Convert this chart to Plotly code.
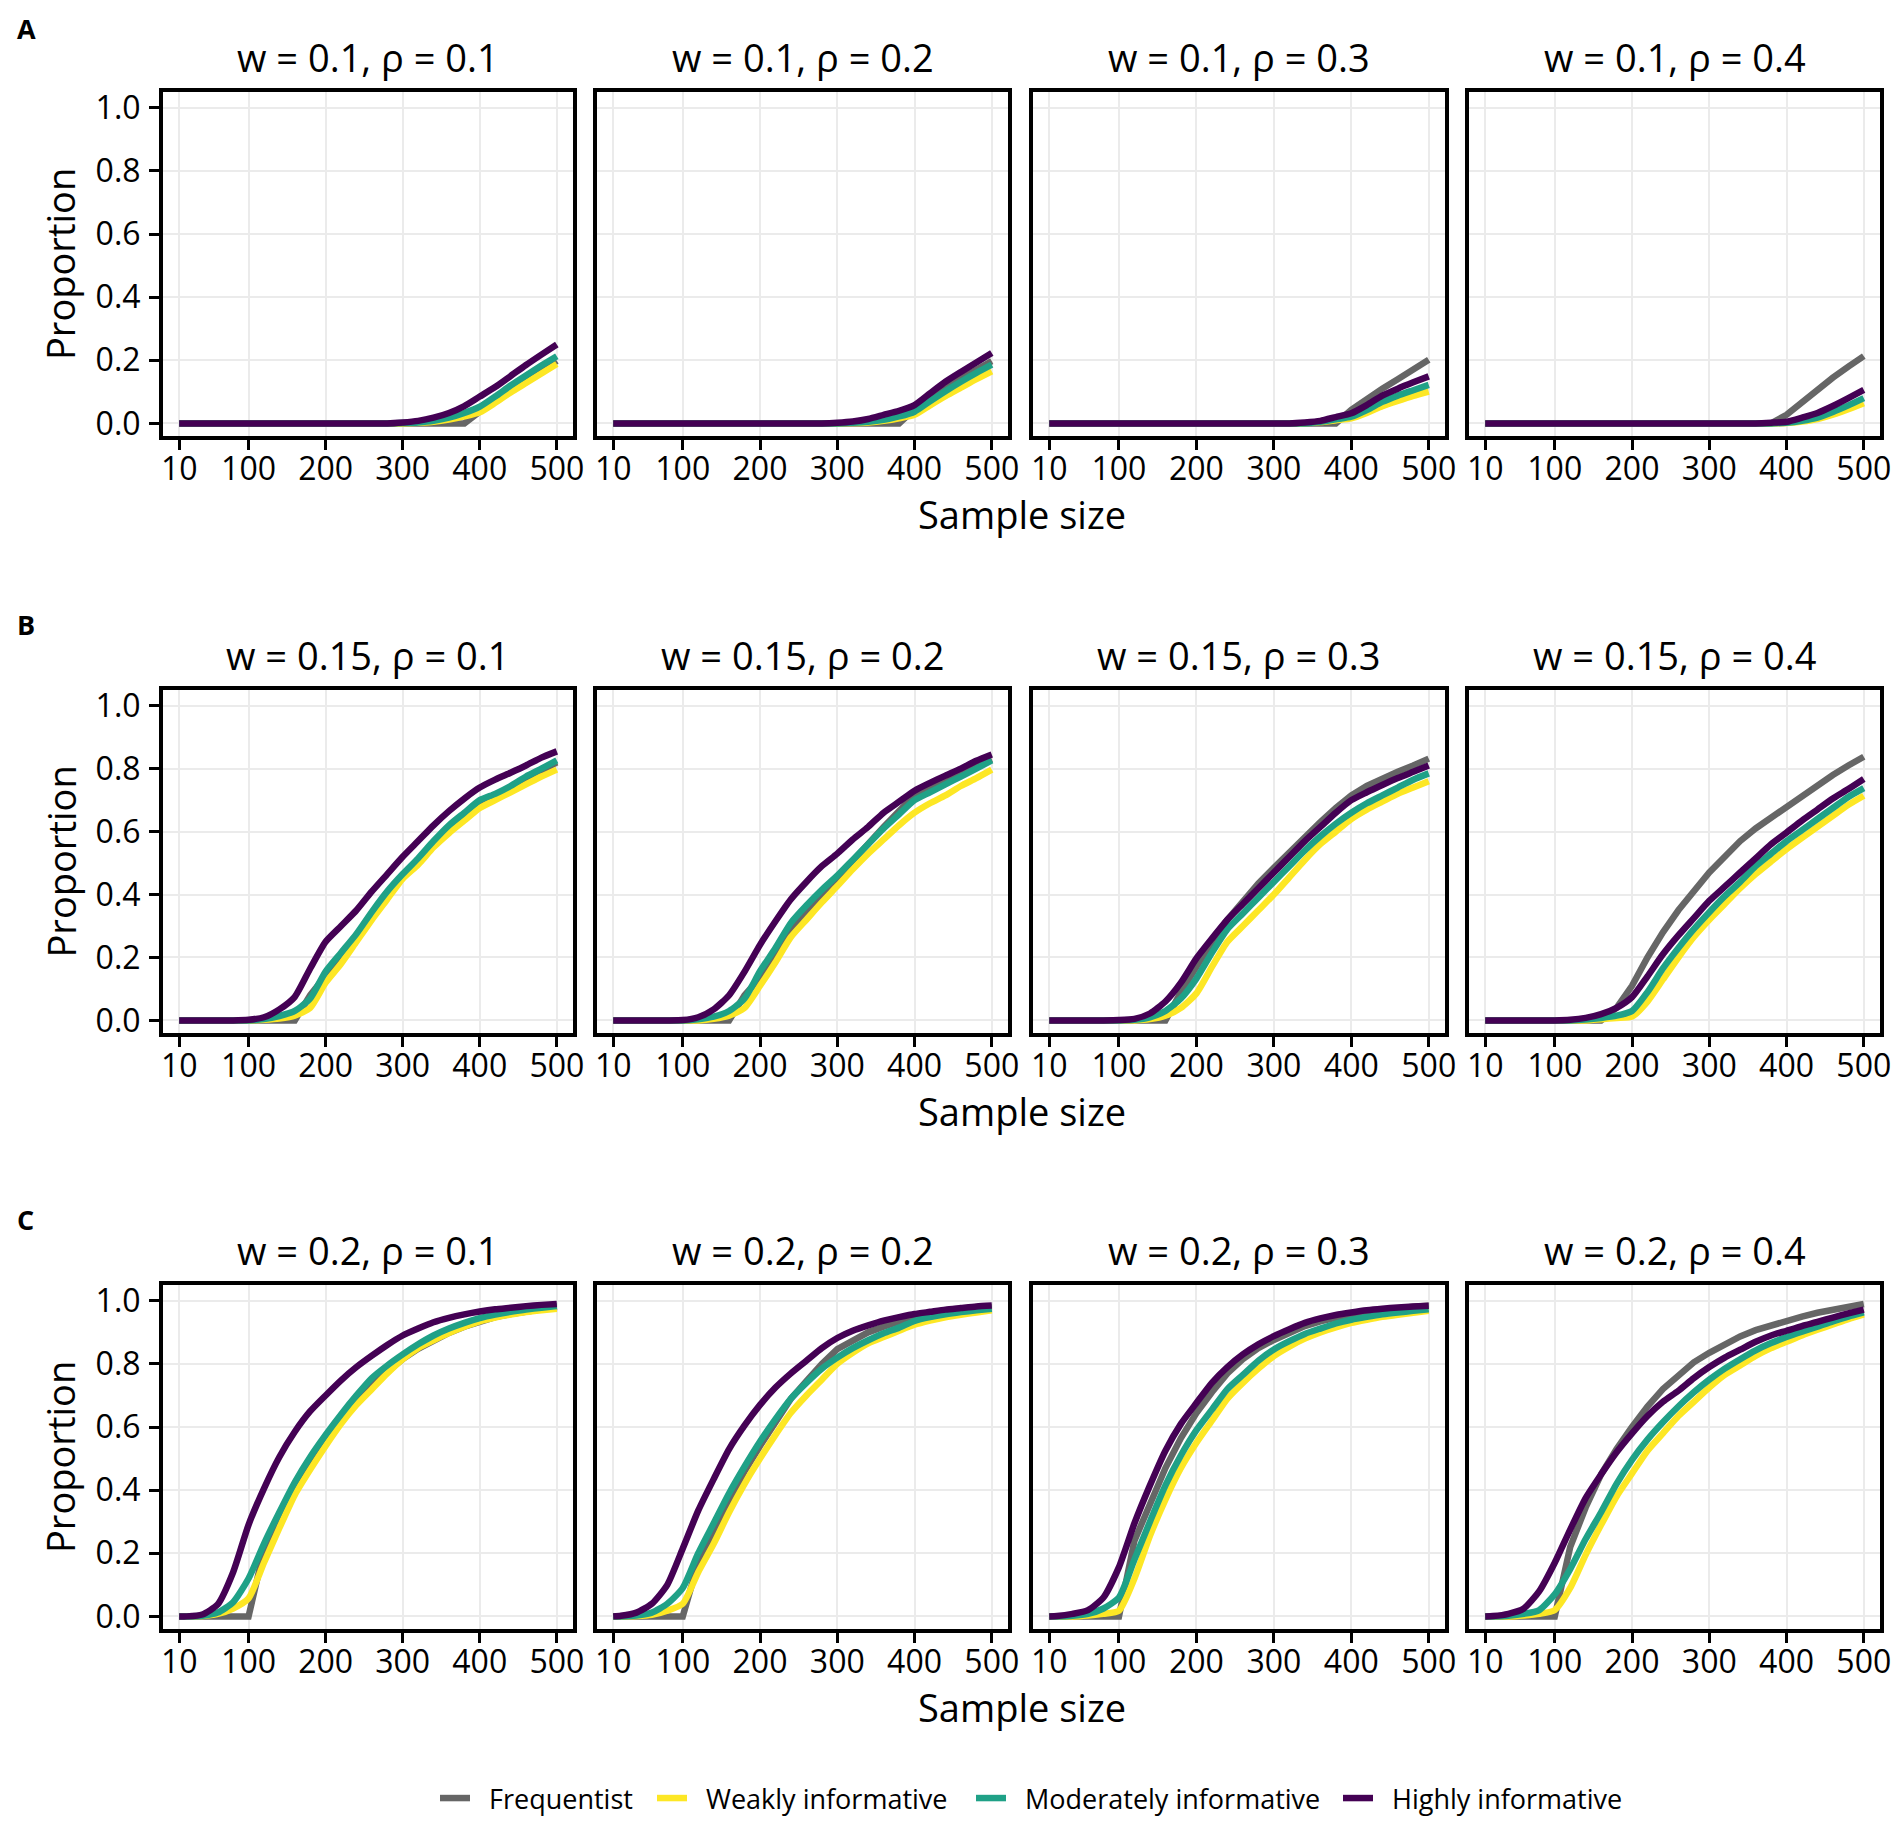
import plotly.graph_objects as go

# ---------------- data ----------------
sample_size = [10, 20, 40, 60, 80, 100, 120, 140, 160, 180, 200, 220, 240, 260,
               280, 300, 320, 340, 360, 380, 400, 420, 440, 460, 480, 500]

w_labels = ["0.1", "0.15", "0.2"]
rho_labels = ["0.1", "0.2", "0.3", "0.4"]
row_letters = ["A", "B", "C"]
series_names = ["Frequentist", "Weakly informative", "Moderately informative", "Highly informative"]
series_colors = ["#666666", "#FDE725", "#1FA187", "#440154"]
x_ticks = [10, 100, 200, 300, 400, 500]
y_ticks = [0.0, 0.2, 0.4, 0.6, 0.8, 1.0]

# Row A (w = 0.1)
freq_A1 = [0, 0, 0, 0, 0, 0, 0, 0, 0, 0, 0, 0, 0, 0, 0, 0, 0, 0, 0, 0, 0.037, 0.07, 0.102, 0.133, 0.165, 0.198]
weak_A1 = [0, 0, 0, 0, 0, 0, 0, 0, 0, 0, 0, 0, 0, 0, 0, 0, 0.002, 0.005, 0.012, 0.022, 0.035, 0.065, 0.098, 0.128, 0.158, 0.188]
mod_A1 = [0, 0, 0, 0, 0, 0, 0, 0, 0, 0, 0, 0, 0, 0, 0, 0.001, 0.003, 0.008, 0.018, 0.033, 0.053, 0.085, 0.12, 0.152, 0.183, 0.213]
high_A1 = [0, 0, 0, 0, 0, 0, 0, 0, 0, 0, 0, 0, 0, 0, 0, 0.003, 0.008, 0.018, 0.033, 0.055, 0.085, 0.115, 0.15, 0.185, 0.218, 0.25]

freq_A2 = [0, 0, 0, 0, 0, 0, 0, 0, 0, 0, 0, 0, 0, 0, 0, 0, 0, 0, 0, 0, 0.045, 0.08, 0.113, 0.142, 0.17, 0.197]
weak_A2 = [0, 0, 0, 0, 0, 0, 0, 0, 0, 0, 0, 0, 0, 0, 0, 0, 0.001, 0.003, 0.008, 0.016, 0.027, 0.057, 0.086, 0.113, 0.14, 0.165]
mod_A2 = [0, 0, 0, 0, 0, 0, 0, 0, 0, 0, 0, 0, 0, 0, 0, 0, 0.002, 0.005, 0.011, 0.022, 0.037, 0.07, 0.102, 0.132, 0.16, 0.186]
high_A2 = [0, 0, 0, 0, 0, 0, 0, 0, 0, 0, 0, 0, 0, 0, 0, 0.002, 0.006, 0.014, 0.027, 0.04, 0.058, 0.095, 0.132, 0.163, 0.193, 0.223]

freq_A3 = [0, 0, 0, 0, 0, 0, 0, 0, 0, 0, 0, 0, 0, 0, 0, 0, 0, 0, 0, 0, 0.043, 0.078, 0.11, 0.14, 0.17, 0.202]
weak_A3 = [0, 0, 0, 0, 0, 0, 0, 0, 0, 0, 0, 0, 0, 0, 0, 0, 0, 0, 0.004, 0.01, 0.016, 0.033, 0.054, 0.071, 0.087, 0.101]
mod_A3 = [0, 0, 0, 0, 0, 0, 0, 0, 0, 0, 0, 0, 0, 0, 0, 0, 0, 0, 0.005, 0.013, 0.021, 0.042, 0.068, 0.088, 0.105, 0.122]
high_A3 = [0, 0, 0, 0, 0, 0, 0, 0, 0, 0, 0, 0, 0, 0, 0, 0, 0, 0.003, 0.008, 0.02, 0.032, 0.058, 0.088, 0.11, 0.13, 0.149]

freq_A4 = [0, 0, 0, 0, 0, 0, 0, 0, 0, 0, 0, 0, 0, 0, 0, 0, 0, 0, 0, 0, 0.027, 0.067, 0.107, 0.145, 0.18, 0.213]
weak_A4 = [0, 0, 0, 0, 0, 0, 0, 0, 0, 0, 0, 0, 0, 0, 0, 0, 0, 0, 0, 0, 0.001, 0.006, 0.014, 0.028, 0.045, 0.064]
mod_A4 = [0, 0, 0, 0, 0, 0, 0, 0, 0, 0, 0, 0, 0, 0, 0, 0, 0, 0, 0, 0, 0.002, 0.008, 0.018, 0.036, 0.057, 0.08]
high_A4 = [0, 0, 0, 0, 0, 0, 0, 0, 0, 0, 0, 0, 0, 0, 0, 0, 0, 0, 0, 0.002, 0.005, 0.018, 0.033, 0.055, 0.08, 0.106]

# Row B (w = 0.15)
freq_B1 = [0, 0, 0, 0, 0, 0, 0, 0, 0, 0.08, 0.14, 0.20, 0.265, 0.335, 0.40, 0.455, 0.505, 0.56, 0.605, 0.65, 0.69, 0.715, 0.74, 0.77, 0.795, 0.82]
weak_B1 = [0, 0, 0, 0, 0, 0, 0.002, 0.006, 0.015, 0.04, 0.12, 0.18, 0.25, 0.32, 0.385, 0.45, 0.495, 0.55, 0.595, 0.635, 0.675, 0.70, 0.725, 0.75, 0.775, 0.797]
mod_B1 = [0, 0, 0, 0, 0, 0, 0.004, 0.014, 0.03, 0.07, 0.155, 0.215, 0.275, 0.345, 0.41, 0.465, 0.515, 0.57, 0.62, 0.66, 0.70, 0.72, 0.745, 0.775, 0.80, 0.826]
high_B1 = [0, 0, 0, 0, 0, 0.002, 0.01, 0.035, 0.075, 0.165, 0.25, 0.30, 0.35, 0.41, 0.465, 0.52, 0.57, 0.62, 0.665, 0.705, 0.74, 0.765, 0.787, 0.81, 0.835, 0.855]

freq_B2 = [0, 0, 0, 0, 0, 0, 0, 0, 0, 0.08, 0.135, 0.21, 0.29, 0.345, 0.40, 0.45, 0.505, 0.56, 0.615, 0.665, 0.715, 0.74, 0.765, 0.785, 0.81, 0.83]
weak_B2 = [0, 0, 0, 0, 0, 0, 0, 0.005, 0.015, 0.04, 0.11, 0.185, 0.265, 0.32, 0.375, 0.427, 0.48, 0.53, 0.575, 0.62, 0.66, 0.69, 0.715, 0.745, 0.77, 0.797]
mod_B2 = [0, 0, 0, 0, 0, 0, 0.004, 0.012, 0.03, 0.07, 0.156, 0.23, 0.31, 0.365, 0.415, 0.46, 0.51, 0.56, 0.61, 0.655, 0.70, 0.725, 0.75, 0.775, 0.80, 0.826]
high_B2 = [0, 0, 0, 0, 0, 0.001, 0.01, 0.035, 0.08, 0.155, 0.24, 0.315, 0.385, 0.44, 0.49, 0.53, 0.575, 0.615, 0.66, 0.695, 0.73, 0.755, 0.778, 0.80, 0.825, 0.845]

freq_B3 = [0, 0, 0, 0, 0, 0, 0, 0, 0, 0.09, 0.17, 0.25, 0.32, 0.38, 0.435, 0.485, 0.535, 0.585, 0.63, 0.675, 0.715, 0.745, 0.77, 0.79, 0.81, 0.832]
weak_B3 = [0, 0, 0, 0, 0, 0, 0, 0.004, 0.015, 0.04, 0.086, 0.17, 0.25, 0.30, 0.35, 0.40, 0.455, 0.51, 0.56, 0.60, 0.64, 0.67, 0.695, 0.72, 0.74, 0.76]
mod_B3 = [0, 0, 0, 0, 0, 0, 0.002, 0.01, 0.03, 0.07, 0.133, 0.215, 0.29, 0.34, 0.39, 0.44, 0.49, 0.54, 0.585, 0.625, 0.66, 0.69, 0.715, 0.74, 0.765, 0.785]
high_B3 = [0, 0, 0, 0, 0, 0.001, 0.005, 0.022, 0.06, 0.12, 0.197, 0.26, 0.32, 0.37, 0.42, 0.47, 0.52, 0.57, 0.615, 0.66, 0.70, 0.725, 0.748, 0.77, 0.79, 0.81]

freq_B4 = [0, 0, 0, 0, 0, 0, 0, 0, 0, 0.04, 0.11, 0.20, 0.28, 0.35, 0.41, 0.47, 0.52, 0.57, 0.61, 0.645, 0.68, 0.715, 0.75, 0.78, 0.81, 0.838]
weak_B4 = [0, 0, 0, 0, 0, 0, 0, 0, 0.004, 0.008, 0.012, 0.06, 0.13, 0.20, 0.265, 0.32, 0.37, 0.42, 0.465, 0.505, 0.544, 0.58, 0.615, 0.65, 0.685, 0.714]
mod_B4 = [0, 0, 0, 0, 0, 0, 0, 0.003, 0.008, 0.015, 0.03, 0.09, 0.165, 0.23, 0.29, 0.344, 0.395, 0.44, 0.49, 0.53, 0.57, 0.605, 0.64, 0.675, 0.71, 0.738]
high_B4 = [0, 0, 0, 0, 0, 0, 0.002, 0.008, 0.02, 0.04, 0.074, 0.14, 0.21, 0.27, 0.325, 0.38, 0.425, 0.47, 0.515, 0.56, 0.597, 0.635, 0.67, 0.705, 0.735, 0.767]

# Row C (w = 0.2)
freq_C1 = [0, 0, 0, 0, 0, 0, 0.21, 0.31, 0.405, 0.49, 0.56, 0.625, 0.685, 0.735, 0.775, 0.815, 0.848, 0.875, 0.898, 0.918, 0.935, 0.948, 0.958, 0.967, 0.974, 0.98]
weak_C1 = [0, 0, 0.001, 0.008, 0.025, 0.057, 0.17, 0.28, 0.385, 0.465, 0.54, 0.61, 0.67, 0.72, 0.77, 0.815, 0.85, 0.875, 0.898, 0.918, 0.935, 0.947, 0.956, 0.964, 0.97, 0.975]
mod_C1 = [0, 0, 0.002, 0.012, 0.045, 0.12, 0.23, 0.33, 0.425, 0.505, 0.575, 0.64, 0.70, 0.755, 0.795, 0.83, 0.862, 0.89, 0.912, 0.93, 0.945, 0.956, 0.965, 0.972, 0.978, 0.983]
high_C1 = [0, 0, 0.006, 0.038, 0.14, 0.29, 0.405, 0.505, 0.585, 0.65, 0.70, 0.748, 0.79, 0.826, 0.86, 0.89, 0.912, 0.932, 0.946, 0.957, 0.966, 0.973, 0.978, 0.983, 0.987, 0.99]

freq_C2 = [0, 0, 0, 0, 0, 0, 0.17, 0.27, 0.37, 0.46, 0.54, 0.615, 0.69, 0.745, 0.80, 0.847, 0.875, 0.90, 0.918, 0.935, 0.95, 0.96, 0.967, 0.972, 0.977, 0.98]
weak_C2 = [0, 0, 0.001, 0.005, 0.018, 0.04, 0.14, 0.23, 0.33, 0.42, 0.50, 0.575, 0.645, 0.70, 0.75, 0.80, 0.835, 0.865, 0.885, 0.905, 0.924, 0.937, 0.948, 0.956, 0.963, 0.97]
mod_C2 = [0, 0, 0.003, 0.012, 0.04, 0.09, 0.20, 0.295, 0.39, 0.475, 0.554, 0.625, 0.69, 0.74, 0.785, 0.82, 0.85, 0.875, 0.897, 0.915, 0.936, 0.948, 0.957, 0.964, 0.97, 0.975]
high_C2 = [0, 0.002, 0.012, 0.04, 0.10, 0.215, 0.335, 0.435, 0.53, 0.605, 0.67, 0.725, 0.77, 0.81, 0.85, 0.882, 0.905, 0.922, 0.937, 0.948, 0.958, 0.965, 0.972, 0.977, 0.982, 0.985]

freq_C3 = [0, 0, 0, 0, 0, 0, 0.24, 0.36, 0.47, 0.565, 0.644, 0.71, 0.77, 0.815, 0.85, 0.876, 0.90, 0.92, 0.935, 0.948, 0.957, 0.965, 0.972, 0.977, 0.981, 0.984]
weak_C3 = [0, 0, 0, 0.003, 0.008, 0.018, 0.12, 0.255, 0.37, 0.47, 0.55, 0.62, 0.69, 0.74, 0.785, 0.825, 0.855, 0.88, 0.90, 0.916, 0.93, 0.94, 0.949, 0.956, 0.962, 0.968]
mod_C3 = [0, 0, 0.002, 0.008, 0.025, 0.06, 0.18, 0.30, 0.415, 0.51, 0.59, 0.655, 0.72, 0.765, 0.81, 0.846, 0.872, 0.895, 0.912, 0.928, 0.94, 0.949, 0.957, 0.963, 0.968, 0.973]
high_C3 = [0, 0.001, 0.008, 0.02, 0.06, 0.156, 0.295, 0.415, 0.525, 0.61, 0.676, 0.74, 0.79, 0.83, 0.862, 0.888, 0.91, 0.93, 0.944, 0.955, 0.963, 0.97, 0.975, 0.979, 0.982, 0.984]

freq_C4 = [0, 0, 0, 0, 0, 0, 0.22, 0.345, 0.45, 0.53, 0.60, 0.665, 0.72, 0.765, 0.805, 0.835, 0.862, 0.887, 0.907, 0.923, 0.937, 0.95, 0.962, 0.972, 0.982, 0.99]
weak_C4 = [0, 0, 0, 0.003, 0.008, 0.02, 0.09, 0.195, 0.29, 0.38, 0.453, 0.525, 0.58, 0.635, 0.68, 0.725, 0.765, 0.795, 0.825, 0.85, 0.87, 0.89, 0.908, 0.925, 0.942, 0.957]
mod_C4 = [0, 0, 0.002, 0.008, 0.02, 0.07, 0.15, 0.245, 0.33, 0.42, 0.496, 0.56, 0.615, 0.665, 0.71, 0.75, 0.785, 0.815, 0.843, 0.866, 0.885, 0.902, 0.918, 0.935, 0.95, 0.963]
high_C4 = [0, 0.001, 0.008, 0.025, 0.08, 0.17, 0.275, 0.375, 0.45, 0.52, 0.58, 0.635, 0.68, 0.715, 0.755, 0.79, 0.82, 0.845, 0.87, 0.89, 0.905, 0.92, 0.933, 0.947, 0.96, 0.972]

panels = [
    [[freq_A1, weak_A1, mod_A1, high_A1], [freq_A2, weak_A2, mod_A2, high_A2],
     [freq_A3, weak_A3, mod_A3, high_A3], [freq_A4, weak_A4, mod_A4, high_A4]],
    [[freq_B1, weak_B1, mod_B1, high_B1], [freq_B2, weak_B2, mod_B2, high_B2],
     [freq_B3, weak_B3, mod_B3, high_B3], [freq_B4, weak_B4, mod_B4, high_B4]],
    [[freq_C1, weak_C1, mod_C1, high_C1], [freq_C2, weak_C2, mod_C2, high_C2],
     [freq_C3, weak_C3, mod_C3, high_C3], [freq_C4, weak_C4, mod_C4, high_C4]],
]

# ---------------- layout geometry (page pixels) ----------------
PAGE_W, PAGE_H = 1902, 1831
OFF = 8                      # default page body margin
W, H = PAGE_W - 2 * OFF, PAGE_H - 2 * OFF
col_px = [(163, 573), (597, 1008), (1033, 1445), (1469, 1880)]
row_px = [(92, 436), (690, 1033), (1285, 1629)]
legend_swatch_px = [440, 657, 976, 1343]
FONT = "Open Sans"


def px_x(p):
    return (p - OFF) / W


def px_y(p):
    return 1 - (p - OFF) / H


fig = go.Figure()
layout_axes = {}
annotations = []
legend_keys = ["legend", "legend2", "legend3", "legend4"]

for r in range(3):
    top, bot = row_px[r]
    for c in range(4):
        idx = r * 4 + c + 1
        xa = "x" if idx == 1 else f"x{idx}"
        ya = "y" if idx == 1 else f"y{idx}"
        left, right = col_px[c]
        for s in range(4):
            fig.add_trace(go.Scatter(
                x=sample_size, y=panels[r][c][s], mode="lines",
                name="\u00a0\u00a0" + series_names[s],
                line=dict(color=series_colors[s], width=6.5,
                          shape="linear" if s == 0 else "spline",
                          smoothing=0.6),
                xaxis=xa, yaxis=ya,
                legend=legend_keys[s],
                showlegend=(idx == 1),
                hoverinfo="skip",
            ))
        layout_axes["xaxis" if idx == 1 else f"xaxis{idx}"] = dict(
            domain=[px_x(left), px_x(right)], anchor=ya,
            range=[-11, 521], tickvals=x_ticks,
            ticktext=[str(v) for v in x_ticks],
            showgrid=True, gridcolor="#EBEBEB", gridwidth=2,
            zeroline=False, showline=True, mirror=True, linecolor="black", linewidth=4,
            ticks="outside", ticklen=10, tickwidth=3, tickcolor="black",
            tickfont=dict(family=FONT, size=32, color="black"),
            ticklabelstandoff=-8,
        )
        layout_axes["yaxis" if idx == 1 else f"yaxis{idx}"] = dict(
            domain=[px_y(bot), px_y(top)], anchor=xa,
            range=[-0.04, 1.05], tickvals=y_ticks,
            ticktext=[f"{v:.1f}" for v in y_ticks],
            showticklabels=(c == 0),
            ticks="outside" if c == 0 else "",
            ticklen=10, tickwidth=3, tickcolor="black",
            showgrid=True, gridcolor="#EBEBEB", gridwidth=2,
            zeroline=False, showline=True, mirror=True, linecolor="black", linewidth=4,
            tickfont=dict(family=FONT, size=32, color="black"),
            ticklabelstandoff=2,
        )
        annotations.append(dict(
            text=f"w = {w_labels[r]}, ρ = {rho_labels[c]}",
            x=px_x((left + right) / 2), y=px_y(top - 35), xref="paper", yref="paper",
            xanchor="center", yanchor="middle", showarrow=False,
            font=dict(family=FONT, size=38, color="black"),
        ))
    # row letter (anchored by its top edge, kept inside the figure)
    annotations.append(dict(
        text=f"<b>{row_letters[r]}</b>", x=px_x(15), y=min(1.0, px_y(top - 86)),
        xref="paper", yref="paper", xanchor="left", yanchor="top",
        showarrow=False, font=dict(family=FONT, size=27, color="black"),
    ))
    # y axis title
    annotations.append(dict(
        text="Proportion", x=px_x(60), y=px_y((top + bot) / 2),
        xref="paper", yref="paper", xanchor="center", yanchor="middle",
        textangle=-90, showarrow=False,
        font=dict(family=FONT, size=38, color="black"),
    ))
    # x axis title
    annotations.append(dict(
        text="Sample size", x=px_x(1022), y=px_y(bot + 78),
        xref="paper", yref="paper", xanchor="center", yanchor="middle",
        showarrow=False, font=dict(family=FONT, size=38, color="black"),
    ))

legends = {}
for s in range(4):
    legends[legend_keys[s]] = dict(
        orientation="h", x=px_x(legend_swatch_px[s] - 5), y=0.0,
        xanchor="left", yanchor="bottom",
        font=dict(family=FONT, size=27, color="black"),
        itemwidth=30, bgcolor="rgba(0,0,0,0)", borderwidth=0,
    )

fig.update_layout(
    width=W, height=H,
    margin=dict(l=0, r=0, t=0, b=0, autoexpand=False),
    paper_bgcolor="white", plot_bgcolor="white",
    showlegend=True,
    annotations=annotations,
    **legends,
    **layout_axes,
)

fig.write_html("out.html")
